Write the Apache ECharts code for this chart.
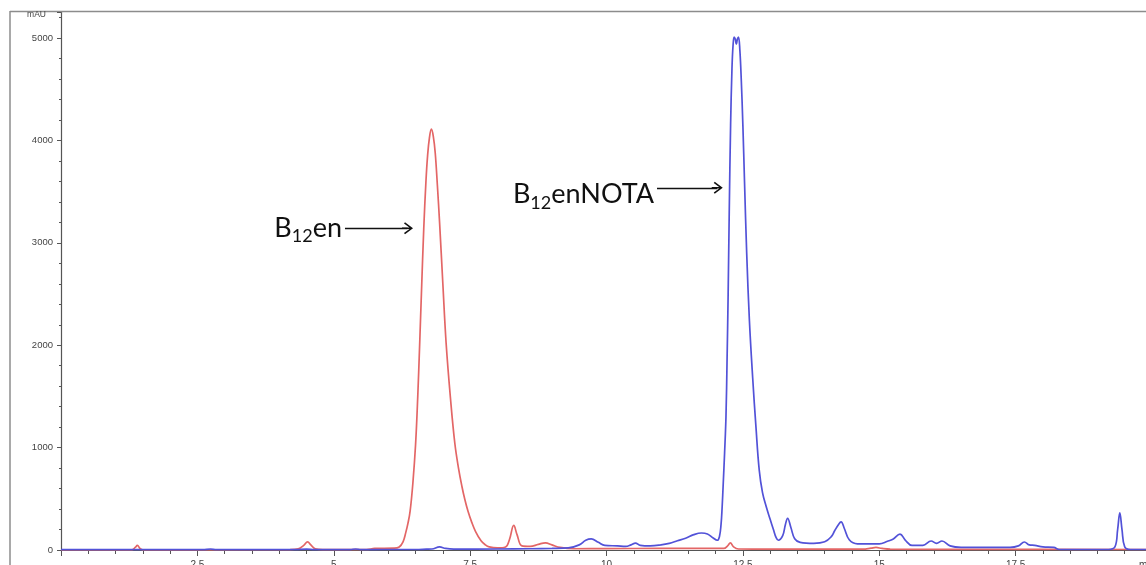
<!DOCTYPE html>
<html>
<head>
<meta charset="utf-8">
<title>HPLC chromatogram – B12en / B12enNOTA</title>
<script src="https://cdn.jsdelivr.net/npm/echarts@6/dist/echarts.min.js"></script>
<style>
  html, body { margin: 0; padding: 0; background: #ffffff; overflow: hidden; }
  #chart { width: 1146px; height: 565px; }
</style>
</head>
<body>
<div id="chart"></div>
<script>
// Retention time (min) vs absorbance (mAU) for each run
const b12enTrace = [
  [0, 2], [1.30, 2], [1.36, 25], [1.40, 45], [1.45, 15], [1.50, 2],
  [2.70, 2], [4.20, 4], [4.35, 12], [4.45, 45], [4.52, 80], [4.58, 50], [4.66, 12], [4.80, 4],
  [5.60, 5], [5.75, 15], [6.10, 18], [6.20, 30], [6.27, 80], [6.32, 170], [6.36, 260],
  [6.40, 380], [6.45, 650], [6.50, 1030], [6.54, 1500], [6.575, 2010], [6.61, 2550],
  [6.65, 3140], [6.69, 3600], [6.72, 3850], [6.755, 4030], [6.79, 4110], [6.825, 4040],
  [6.86, 3880], [6.90, 3560], [6.94, 3200], [7.00, 2600], [7.06, 2020], [7.14, 1480],
  [7.22, 1040], [7.29, 790], [7.35, 620], [7.40, 500], [7.46, 380], [7.53, 270], [7.60, 180],
  [7.70, 90], [7.78, 50], [7.85, 30], [8.00, 20], [8.15, 30], [8.22, 100], [8.30, 240],
  [8.36, 150], [8.45, 40], [8.60, 35], [8.75, 55], [8.88, 70], [9.00, 50], [9.15, 25],
  [9.40, 12], [10.0, 14], [11.0, 15], [12.15, 15], [12.22, 40], [12.27, 70], [12.33, 30],
  [12.42, 10], [13.0, 8], [13.5, 10], [14.70, 8], [14.85, 18], [14.94, 25], [15.05, 15],
  [15.20, 8], [17.0, 6], [20.0, 5]
];

const b12enNotaTrace = [
  [0, 3], [2.60, 3], [2.74, 10], [2.85, 3], [4.30, 4], [4.50, 8], [4.65, 4],
  [5.30, 4], [5.40, 10], [5.50, 4], [6.00, 5], [6.50, 5], [6.70, 8], [6.80, 10],
  [6.94, 30], [7.05, 15], [7.20, 8], [8.00, 10], [8.60, 12], [9.00, 15], [9.30, 20],
  [9.50, 50], [9.62, 95], [9.72, 108], [9.85, 75], [9.97, 45], [10.20, 40], [10.35, 35],
  [10.45, 50], [10.53, 68], [10.62, 45], [10.80, 40], [11.00, 50], [11.15, 65], [11.30, 90],
  [11.45, 115], [11.60, 150], [11.74, 166], [11.85, 157], [11.95, 120], [12.03, 95],
  [12.07, 130], [12.10, 250], [12.12, 420], [12.14, 650], [12.165, 950], [12.19, 1300],
  [12.21, 1850], [12.23, 2500], [12.25, 3300], [12.275, 4150], [12.30, 4700], [12.32, 4930],
  [12.34, 5010], [12.36, 4990], [12.38, 4940], [12.40, 4990], [12.42, 5010], [12.445, 4880],
  [12.47, 4600], [12.50, 4150], [12.53, 3600], [12.57, 2900], [12.62, 2240], [12.68, 1680],
  [12.74, 1200], [12.80, 780], [12.86, 560], [12.93, 420], [13.00, 300], [13.06, 200],
  [13.11, 120], [13.15, 95], [13.23, 140], [13.28, 250], [13.32, 310], [13.38, 220],
  [13.45, 110], [13.55, 75], [13.80, 65], [14.00, 80], [14.12, 130], [14.18, 185],
  [14.26, 255], [14.30, 275], [14.36, 210], [14.45, 100], [14.60, 60], [15.00, 60],
  [15.15, 85], [15.25, 105], [15.38, 155], [15.48, 95], [15.60, 45], [15.80, 45],
  [15.95, 88], [16.05, 65], [16.15, 88], [16.30, 40], [16.50, 25], [17.00, 25],
  [17.40, 25], [17.55, 40], [17.66, 78], [17.75, 50], [17.85, 45], [18.00, 30],
  [18.20, 25], [18.30, 5], [19.20, 5], [19.32, 30], [19.37, 200], [19.41, 362],
  [19.45, 200], [19.50, 30], [19.60, 5], [20.0, 5]
];

// Axis extents and tick labels
const timeMax = 20;          // min
const absMax = 5250;         // mAU at the top of the plot
const absTickLabels = [0, 1000, 2000, 3000, 4000, 5000];
const timeTickLabels = [2.5, 5, 7.5, 10, 12.5, 15, 17.5];

// Arrow annotations: [start, end] in (min, mAU)
const b12enArrow = [[5.206, 3142], [6.352, 3142]];
const b12enNotaArrow = [[10.926, 3538], [12.03, 3538]];

// Open arrowhead with a short shaft, drawn pointing "up" (the line symbol is rotated along the line)
const ARROW_HEAD = 'path://M5,0 L10,8 L9,9 L5.6,3.6 L5.6,11 L4.4,11 L4.4,3.6 L1,9 L0,8 Z';

const axisFont = 'Liberation Sans, Arial, sans-serif';
const noteFont = 'Lato, Carlito, sans-serif';

function arrowMarkLine(seg, richText, offsetY) {
  return {
    silent: true,
    animation: false,
    symbol: ['none', ARROW_HEAD],
    symbolSize: [12, 11],
    lineStyle: { color: '#111111', width: 1.3, type: 'solid' },
    emphasis: { disabled: true },
    label: {
      show: true,
      position: 'start',
      distance: 3,
      offset: [0, offsetY],
      formatter: richText,
      rich: {
        m: { fontFamily: noteFont, fontSize: 27, color: '#111111' },
        s: { fontFamily: noteFont, fontSize: 18, color: '#111111', padding: [16, 0, 0, 0] }
      }
    },
    data: [[{ coord: seg[0] }, { coord: seg[1] }]]
  };
}

const chart = echarts.init(document.getElementById('chart'), null, { renderer: 'canvas' });

chart.setOption({
  animation: false,
  backgroundColor: '#ffffff',
  grid: {
    left: 61, right: -6, top: 12.5, bottom: 15,
    containLabel: false,
    outerBoundsMode: 'none'
  },
  xAxis: {
    type: 'value',
    min: 0,
    max: timeMax,
    interval: 2.5,
    axisLine: { show: true, lineStyle: { color: '#555555', width: 1.2 } },
    axisTick: { show: true, length: 6, lineStyle: { color: '#555555' } },
    minorTick: { show: true, splitNumber: 5, length: 4, lineStyle: { color: '#555555' } },
    splitLine: { show: false },
    axisLabel: {
      showMinLabel: false,
      margin: 10,
      fontFamily: axisFont,
      fontSize: 10,
      color: '#444444',
      formatter: v => (v === timeMax ? '{u|min}' : (timeTickLabels.includes(v) ? String(v) : '')),
      rich: {
        u: { fontFamily: axisFont, fontSize: 10, color: '#444444', padding: [0, 10, 0, 0] }
      }
    }
  },
  yAxis: [
    {
      type: 'value',
      min: 0,
      max: absMax,
      interval: 1000,
      axisLine: { show: true, lineStyle: { color: '#555555', width: 1.2 } },
      axisTick: { show: true, length: 4, lineStyle: { color: '#555555' } },
      splitLine: { show: false },
      axisLabel: {
        margin: 8,
        fontFamily: axisFont,
        fontSize: 9.5,
        color: '#444444',
        formatter: v => (v === absMax ? '{u|mAU}' : (absTickLabels.includes(v) ? String(v) : '')),
        rich: {
          u: { fontFamily: axisFont, fontSize: 8.5, color: '#444444', padding: [4, 7, 0, 0] }
        }
      }
    },
    {
      // fine 200 mAU ticks
      type: 'value',
      min: 0,
      max: absMax,
      interval: 200,
      position: 'left',
      axisLine: { show: false },
      axisTick: { show: true, length: 2, lineStyle: { color: '#555555' } },
      axisLabel: { show: false },
      splitLine: { show: false }
    }
  ],
  graphic: [
    { type: 'line', silent: true, shape: { x1: 10, y1: 11.5, x2: 1146, y2: 11.5 },
      style: { stroke: '#8c8c8c', lineWidth: 1.5 } },
    { type: 'line', silent: true, shape: { x1: 10, y1: 11, x2: 10, y2: 565 },
      style: { stroke: '#8c8c8c', lineWidth: 1.5 } }
  ],
  series: [
    {
      name: 'B12en',
      type: 'line',
      yAxisIndex: 0,
      data: b12enTrace,
      showSymbol: false,
      smooth: 0.4,
      lineStyle: { color: '#e36666', width: 1.7 },
      itemStyle: { color: '#e36666' },
      z: 3,
      markLine: arrowMarkLine(b12enArrow, '{m|B}{s|12}{m|en}', 0)
    },
    {
      name: 'B12enNOTA',
      type: 'line',
      yAxisIndex: 0,
      data: b12enNotaTrace,
      showSymbol: false,
      smooth: 0.4,
      lineStyle: { color: '#5252d8', width: 1.7 },
      itemStyle: { color: '#5252d8' },
      z: 4,
      markLine: arrowMarkLine(b12enNotaArrow, '{m|B}{s|12}{m|enNOTA}', 7)
    }
  ]
});
</script>
</body>
</html>
